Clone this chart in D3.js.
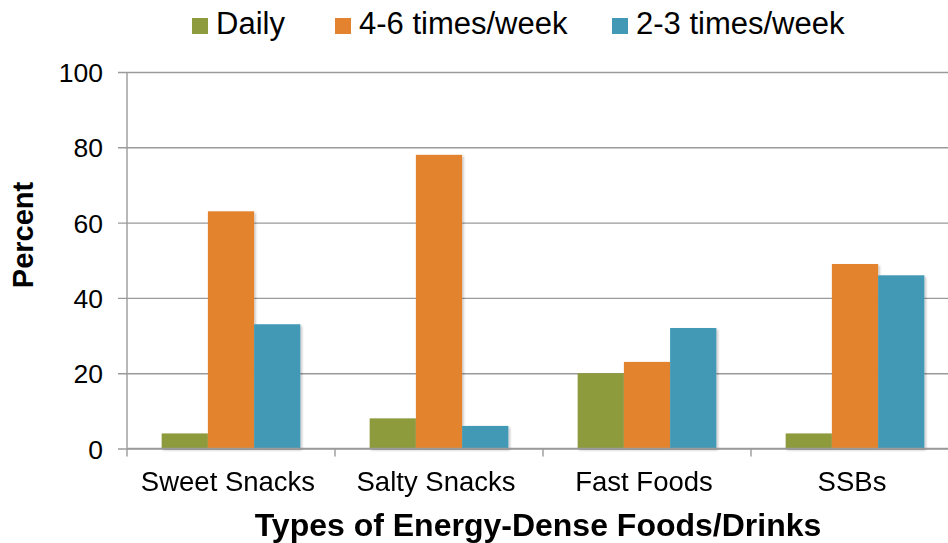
<!DOCTYPE html>
<html><head><meta charset="utf-8">
<script src="https://cdn.jsdelivr.net/npm/d3@7"></script>
<style>html,body{margin:0;padding:0;background:#fff;overflow:hidden}svg{display:block;font-family:"Liberation Sans",Arial,sans-serif}</style>
</head><body>
<svg id="c" width="948" height="543"></svg>
<script>
const categories = ["Sweet Snacks","Salty Snacks","Fast Foods","SSBs"];
const seriesNames = ["Daily","4-6 times/week","2-3 times/week"];
const daily = [4, 8, 20, 4];
const times46 = [63, 78, 23, 49];
const times23 = [33, 6, 32, 46];
const yTicks = [0, 20, 40, 60, 80, 100];
const colors = ["#8E9B3E", "#E4832F", "#4299B6"];
const seriesValues = [daily, times46, times23];

(function () {
const svg = d3.select("#c");
const pLeft = 127, pRight = 959, pTop = 72, pBottom = 448.5;

const defs = svg.append("defs");
const f = defs.append("filter").attr("id","sh").attr("x","-10%").attr("y","-10%").attr("width","130%").attr("height","130%");
f.append("feDropShadow").attr("dx",1.5).attr("dy",1.5).attr("stdDeviation",1.2).attr("flood-color","#000").attr("flood-opacity",0.25);

const x0 = d3.scaleBand().domain(categories).range([pLeft, pRight]).paddingInner(1/3).paddingOuter(1/6);
const x1 = d3.scaleBand().domain(seriesNames).range([0, x0.bandwidth()]);
const y = d3.scaleLinear().domain([0, 100]).range([pBottom, pTop]);

// gridlines + y axis
const yAxis = d3.axisLeft(y).tickValues(yTicks).tickSize(-(pRight - pLeft)).tickPadding(0).tickFormat(d3.format("d"));
const gy = svg.append("g").attr("transform", `translate(${pLeft},0)`).call(yAxis);
gy.select(".domain").remove();
gy.selectAll(".tick line").attr("x1", -9).attr("stroke", "#9a9a9a").attr("stroke-width", 1.4);
gy.selectAll(".tick text").attr("x", -24).attr("dy", "0.36em").attr("font-size", 26.5).attr("fill", "#000").attr("font-family", "Liberation Sans, Arial, sans-serif");

svg.append("line").attr("x1", pLeft).attr("x2", pLeft).attr("y1", pTop).attr("y2", pBottom).attr("stroke", "#9a9a9a").attr("stroke-width", 1.4);

// bars
const data = categories.map((c, i) => ({ c, vals: seriesNames.map((s, j) => ({ s, j, v: seriesValues[j][i] })) }));
const g = svg.append("g").attr("filter","url(#sh)");
g.selectAll("g").data(data).join("g")
  .attr("transform", d => `translate(${x0(d.c)},0)`)
  .selectAll("rect").data(d => d.vals).join("rect")
  .attr("x", d => x1(d.s)).attr("width", x1.bandwidth())
  .attr("y", d => y(d.v)).attr("height", d => y(0) - y(d.v))
  .attr("fill", d => colors[d.j]);

// x axis
svg.append("line").attr("x1", pLeft).attr("x2", pRight).attr("y1", pBottom).attr("y2", pBottom).attr("stroke", "#9a9a9a").attr("stroke-width", 1.4);
const step = x0.step();
const boundaries = d3.range(categories.length + 1).map(i => pLeft + i * step);
svg.selectAll(".xt").data(boundaries).join("line").attr("class","xt")
  .attr("x1", d => d).attr("x2", d => d).attr("y1", pBottom).attr("y2", pBottom + 8)
  .attr("stroke", "#9a9a9a").attr("stroke-width", 1.4);
svg.selectAll(".xl").data(categories).join("text").attr("class","xl")
  .attr("x", d => x0(d) + x0.bandwidth() / 2 - 3).attr("y", 491)
  .attr("text-anchor", "middle").attr("font-size", 27.5).attr("fill", "#000").text(d => d);

// axis titles
svg.append("text").attr("x", 538).attr("y", 536).attr("text-anchor", "middle")
  .attr("font-size", 32).attr("font-weight", "bold").attr("fill", "#000")
  .text("Types of Energy-Dense Foods/Drinks");
svg.append("text").attr("transform", "translate(33,235) rotate(-90)").attr("text-anchor", "middle")
  .attr("font-size", 29).attr("font-weight", "bold").attr("fill", "#000").text("Percent");

// legend
const legendX = [192, 335, 612];
const lg = svg.selectAll(".lg").data(seriesNames).join("g").attr("class","lg")
  .attr("transform", (d, i) => `translate(${legendX[i]},0)`);
lg.append("rect").attr("x", 0).attr("y", 18).attr("width", 16).attr("height", 16).attr("fill", (d, i) => colors[i]);
lg.append("text").attr("x", 24).attr("y", 34).attr("font-size", 31).attr("fill", "#000").text(d => d);
})();
</script>
</body></html>
